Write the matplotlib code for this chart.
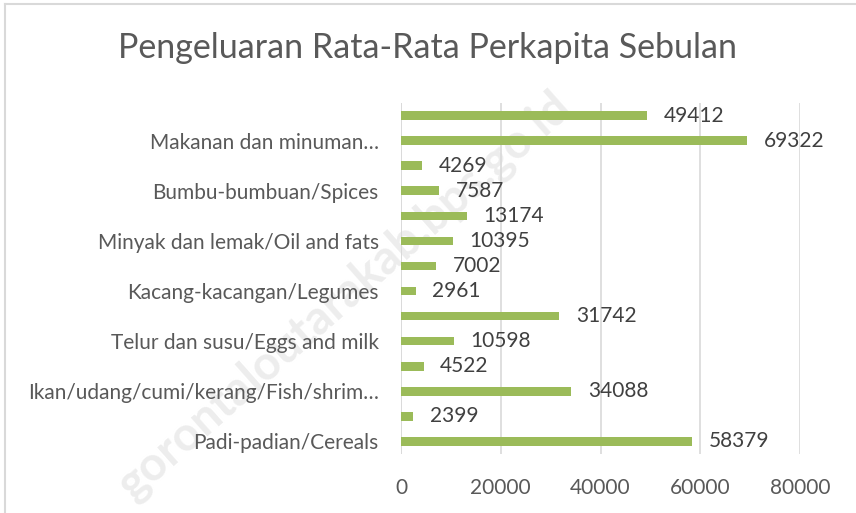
import matplotlib.pyplot as plt
from matplotlib.lines import Line2D

# values listed bottom -> top, as drawn in the chart
values = [58379, 2399, 34088, 4522, 10598, 31742, 2961, 7002,
          10395, 13174, 7587, 4269, 69322, 49412]
# only every other category name is shown on the axis
labels = ["Padi-padian/Cereals", "", "Ikan/udang/cumi/kerang/Fish/shrim…", "",
          "Telur dan susu/Eggs and milk", "", "Kacang-kacangan/Legumes", "",
          "Minyak dan lemak/Oil and fats", "", "Bumbu-bumbuan/Spices", "",
          "Makanan dan minuman…", ""]
xticks = [0, 20000, 40000, 60000, 80000]

plt.rcParams['font.family'] = ['Lato', 'DejaVu Sans']

fig = plt.figure(figsize=(8.56, 5.13), dpi=100)
ax = fig.add_axes([401 / 856, 1 - 454 / 513, 399 / 856, 351 / 513])
ax.patch.set_alpha(0)

pos = list(range(len(values)))
ax.barh(pos, values, height=0.34, color="#9BBB59", zorder=3)

for p, v in zip(pos, values):
    ax.annotate(str(v), (v, p), xytext=(12, 0), textcoords="offset points",
                va="center", ha="left", fontsize=15, color="#404040", zorder=4)

ax.set_xlim(0, 80000)
ax.set_ylim(-0.5, len(values) - 0.5)
ax.set_xticks(xticks)
ax.set_xticklabels([str(t) for t in xticks], fontsize=15, color="#595959")
ax.set_yticks(pos)
ax.set_yticklabels(labels, fontsize=15, color="#595959")
ax.tick_params(axis="both", length=0)
ax.tick_params(axis="x", pad=17)
ax.tick_params(axis="y", pad=16)
ax.grid(axis="x", color="#D9D9D9", lw=1.2, zorder=0)
for s in ax.spines.values():
    s.set_visible(False)
ax.axvline(0, color="#D9D9D9", lw=1.2, zorder=2)

fig.text(0.5, 1 - 48 / 513, "Pengeluaran Rata-Rata Perkapita Sebulan",
         ha="center", va="center", fontsize=24.5, color="#595959")

# faint watermark, behind the chart
fig.text(345 / 856, 1 - 295 / 513, "gorontaloutarakab.bps.go.id", rotation=41.5,
         ha="center", va="center", fontsize=34, fontweight="bold",
         color="#EDEDED", zorder=-1)

# chart frame (left and top edges visible)
fig.add_artist(Line2D([5 / 856, 5 / 856], [0, 1 - 4 / 513],
                      transform=fig.transFigure, color="#D9D9D9", lw=1.5))
fig.add_artist(Line2D([5 / 856, 1], [1 - 4 / 513, 1 - 4 / 513],
                      transform=fig.transFigure, color="#D9D9D9", lw=1.5))

fig.savefig("out.png", dpi=100)
